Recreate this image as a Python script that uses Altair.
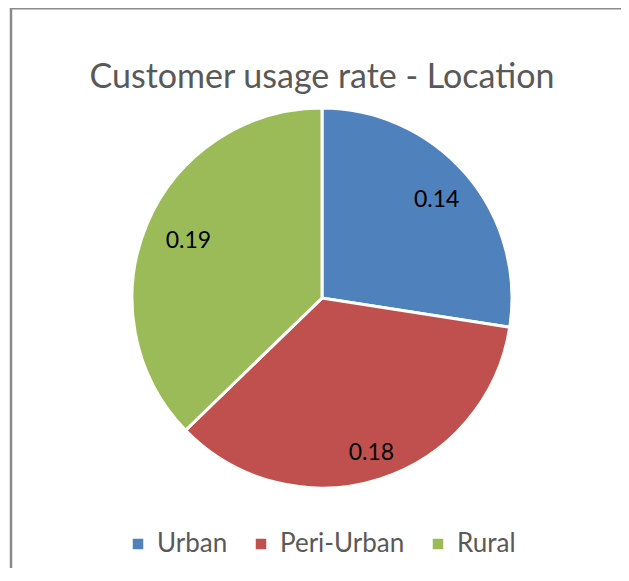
import altair as alt
import pandas as pd

title_text = "Customer usage rate - Location"
categories = ["Urban", "Peri-Urban", "Rural"]
values = [0.14, 0.18, 0.19]
colors = ["#4F81BD", "#C0504D", "#9BBB59"]

df = pd.DataFrame({"category": categories, "value": values, "idx": list(range(len(categories)))})

W, H = 613, 560
CX, CY = 314, 290
FONT = "Lato"

base = alt.Chart(df)

pie = base.mark_arc(radius=190, stroke="white", strokeWidth=3).encode(
    theta=alt.Theta("value:Q", stack=True),
    color=alt.Color(
        "category:N",
        scale=alt.Scale(domain=categories, range=colors),
        legend=alt.Legend(
            orient="none", legendX=117, legendY=523, direction="horizontal",
            title=None, symbolType="square", symbolSize=110, symbolStrokeWidth=0,
            labelFontSize=26, labelFont=FONT, labelColor="#595959",
            columnPadding=20, labelOffset=6,
        ),
    ),
    order=alt.Order("idx:Q"),
    x=alt.value(CX),
    y=alt.value(CY),
)

labels = base.transform_stack(
    stack="value", groupby=[], as_=["v0", "v1"], sort=[alt.SortField("idx", order="ascending")]
).transform_joinaggregate(
    total="sum(value)"
).transform_calculate(
    ang="PI * (datum.v0 + datum.v1) / datum.total",
    r="datum.category == 'Urban' ? 151 : (datum.category == 'Peri-Urban' ? 163 : 145)",
).mark_text(fontSize=23, font=FONT, color="black").encode(
    theta=alt.Theta("ang:Q", scale=None, stack=None),
    radius=alt.Radius("r:Q", scale=None),
    text=alt.Text("value:Q", format=".2f"),
    x=alt.value(CX),
    y=alt.value(CY),
)

title = alt.Chart(pd.DataFrame({"t": [title_text]})).mark_text(
    fontSize=34, font=FONT, color="#595959", baseline="alphabetic", align="center"
).encode(text="t:N", x=alt.value(CX), y=alt.value(80))

frame_df = pd.DataFrame({"a": [0]})
left_line = alt.Chart(frame_df).mark_rule(color="#8a8a8a", strokeWidth=2.5).encode(
    x=alt.value(3), y=alt.value(0), y2=alt.value(H)
)
top_line = alt.Chart(frame_df).mark_rule(color="#8a8a8a", strokeWidth=2).encode(
    x=alt.value(2), x2=alt.value(W), y=alt.value(0.5)
)

chart = alt.layer(left_line, top_line, pie, labels, title).properties(
    width=W, height=H, padding=0, autosize="none"
).configure_view(stroke=None)

chart.save("out.html", embed_options={"renderer": "svg", "actions": False})
